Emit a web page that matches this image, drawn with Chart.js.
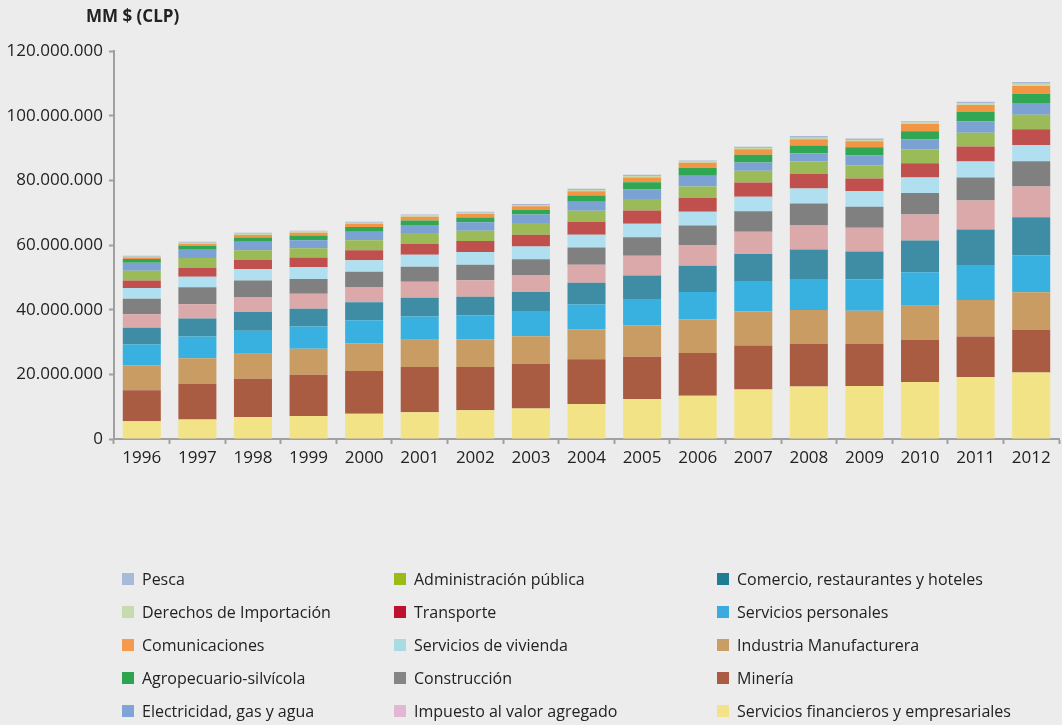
<!DOCTYPE html>
<html>
<head>
<meta charset="utf-8">
<script src="https://cdn.jsdelivr.net/npm/chart.js@4"></script>
<style>
  body { margin: 0; background: #ebeceb; font-family: 'Open Sans', sans-serif; color: #222; }
  #wrap { position: relative; width: 1062px; height: 725px; }
  #title { position: absolute; left: 86px; top: 4px; font-weight: bold; font-size: 17px; }
  .item { position: absolute; font-size: 16px; line-height: 20px; white-space: nowrap; }
  .item span.box { position: absolute; width: 12px; height: 12px; top: 4px; }
</style>
</head>
<body>
<div id="wrap">
  <canvas id="chart" width="1062" height="725"></canvas>
  <div id="title">MM $ (CLP)</div>
  <div id="legend"></div>
</div>
<script>
const years = ['1996','1997','1998','1999','2000','2001','2002','2003','2004','2005','2006','2007','2008','2009','2010','2011','2012'];

// valores en millones de MM$ (120 = 120.000.000)
const financieros = [5.5, 6.05, 6.8, 7.1, 7.8, 8.3, 8.9, 9.4, 10.8, 12.35, 13.4, 15.3, 16.2, 16.4, 17.6, 19.2, 20.6];
const mineria = [9.6, 10.95, 11.8, 12.8, 13.2, 14.0, 13.4, 13.8, 13.9, 13.05, 13.2, 13.6, 13.2, 13.0, 13.05, 12.5, 13.2];
const industria = [7.7, 8.0, 7.8, 8.0, 8.5, 8.4, 8.5, 8.6, 9.2, 9.7, 10.4, 10.6, 10.5, 10.25, 10.55, 11.3, 11.6];
const personales = [6.4, 6.7, 7.1, 6.9, 7.2, 7.2, 7.4, 7.8, 7.7, 8.2, 8.5, 9.1, 9.6, 9.75, 10.4, 10.8, 11.4];
const comercio = [5.2, 5.6, 5.75, 5.5, 5.6, 5.8, 5.8, 5.9, 6.7, 7.3, 8.1, 8.6, 9.1, 8.6, 9.8, 11.0, 11.8];
const iva = [4.2, 4.4, 4.55, 4.6, 4.7, 4.9, 5.1, 5.2, 5.6, 6.1, 6.4, 6.9, 7.4, 7.3, 8.0, 9.0, 9.5];
const construccion = [4.8, 5.2, 5.2, 4.6, 4.7, 4.7, 4.8, 4.9, 5.3, 5.7, 6.0, 6.3, 6.85, 6.5, 6.7, 7.1, 7.8];
const vivienda = [3.3, 3.3, 3.5, 3.6, 3.6, 3.7, 3.9, 3.9, 4.0, 4.2, 4.3, 4.5, 4.65, 4.8, 4.8, 4.9, 4.95];
const transporte = [2.3, 2.7, 2.9, 3.0, 3.1, 3.3, 3.4, 3.7, 4.0, 4.1, 4.2, 4.4, 4.5, 4.0, 4.4, 4.7, 4.95];
const administracion = [3.0, 3.1, 3.0, 2.9, 3.1, 3.4, 3.2, 3.6, 3.4, 3.5, 3.6, 3.7, 3.8, 4.0, 4.2, 4.2, 4.5];
const electricidad = [2.5, 2.5, 2.6, 2.5, 2.6, 2.5, 2.6, 2.6, 2.8, 3.0, 3.3, 2.5, 2.6, 3.05, 3.1, 3.5, 3.6];
const agropecuario = [1.2, 1.3, 1.3, 1.4, 1.5, 1.4, 1.5, 1.5, 1.9, 2.2, 2.5, 2.4, 2.4, 2.55, 2.6, 2.9, 2.9];
const comunicaciones = [0.4, 0.5, 0.8, 0.9, 1.0, 1.1, 1.1, 1.1, 1.3, 1.5, 1.5, 1.7, 1.9, 1.9, 2.2, 2.2, 2.4];
const derechos = [0.3, 0.4, 0.4, 0.4, 0.3, 0.4, 0.4, 0.4, 0.4, 0.45, 0.4, 0.4, 0.5, 0.4, 0.5, 0.5, 0.7];
const pesca = [0.3, 0.3, 0.3, 0.2, 0.3, 0.3, 0.3, 0.3, 0.4, 0.4, 0.3, 0.4, 0.55, 0.4, 0.4, 0.5, 0.5];

const yTicks = [0, 20, 40, 60, 80, 100, 120];

// de abajo hacia arriba: [nombre, datos, color barra, color leyenda]
const series = [
  ['Servicios financieros y empresariales', financieros, '#f3e387', '#f4e286'],
  ['Minería', mineria, '#aa5c42', '#aa5b41'],
  ['Industria Manufacturera', industria, '#c89c63', '#c99d63'],
  ['Servicios personales', personales, '#38b0e0', '#3baadf'],
  ['Comercio, restaurantes y hoteles', comercio, '#3e8da5', '#1c7d95'],
  ['Impuesto al valor agregado', iva, '#dba9a9', '#e0b8d3'],
  ['Construcción', construccion, '#808080', '#858585'],
  ['Servicios de vivienda', vivienda, '#b0dff0', '#aadbe3'],
  ['Transporte', transporte, '#c0504d', '#c0102f'],
  ['Administración pública', administracion, '#9bbb59', '#9bbb1a'],
  ['Electricidad, gas y agua', electricidad, '#7ba2d3', '#7fa5d6'],
  ['Agropecuario-silvícola', agropecuario, '#31a754', '#2ea350'],
  ['Comunicaciones', comunicaciones, '#f29645', '#f5994c'],
  ['Derechos de Importación', derechos, '#c9d9ae', '#c8dab0'],
  ['Pesca', pesca, '#a7b8d8', '#a9b9d8']
];

function fmt(v) {
  if (v === 0) return '0';
  return String(Math.round(v * 1000000)).replace(/\B(?=(\d{3})+(?!\d))/g, '.');
}

Chart.defaults.font.family = "'Open Sans', sans-serif";
Chart.defaults.font.size = 17;
Chart.defaults.color = '#222';

const ctx = document.getElementById('chart').getContext('2d');
const chart = new Chart(ctx, {
  type: 'bar',
  data: {
    labels: years,
    datasets: series.map(s => ({
      label: s[0],
      data: s[1],
      backgroundColor: s[2],
      borderWidth: 0,
      categoryPercentage: 1,
      barPercentage: 0.684
    }))
  },
  options: {
    responsive: false,
    animation: false,
    layout: { padding: { top: 51, right: 3, left: 0, bottom: 0 } },
    plugins: { legend: { display: false }, tooltip: { enabled: false } },
    scales: {
      x: {
        stacked: true,
        grid: { drawOnChartArea: false, drawTicks: true, tickLength: 5, color: '#a0a0a0', tickWidth: 2 },
        border: { display: true, color: '#a0a0a0', width: 2 },
        ticks: { padding: 4, maxRotation: 0 },
        afterFit: scale => { scale.height = 286; }
      },
      y: {
        stacked: true,
        min: 0,
        max: 120,
        grid: { drawOnChartArea: false, drawTicks: true, tickLength: 5, color: '#a0a0a0', tickWidth: 2 },
        border: { display: true, color: '#a0a0a0', width: 2 },
        afterBuildTicks: scale => { scale.ticks = yTicks.map(v => ({ value: v })); },
        ticks: { padding: 6, callback: v => fmt(v) },
        afterFit: scale => { scale.width = 114; }
      }
    }
  }
});

// leyenda en 3 columnas, orden inverso al apilado
const legendCols = [122, 394, 717];
const legend = document.getElementById('legend');
series.slice().reverse().forEach((s, i) => {
  const col = Math.floor(i / 5), row = i % 5;
  const el = document.createElement('div');
  el.className = 'item';
  el.style.left = legendCols[col] + 'px';
  el.style.top = (569 + row * 33) + 'px';
  el.style.paddingLeft = '20px';
  el.innerHTML = '<span class="box" style="left:0;background:' + s[3] + '"></span>' + s[0];
  legend.appendChild(el);
});
</script>
</body>
</html>
